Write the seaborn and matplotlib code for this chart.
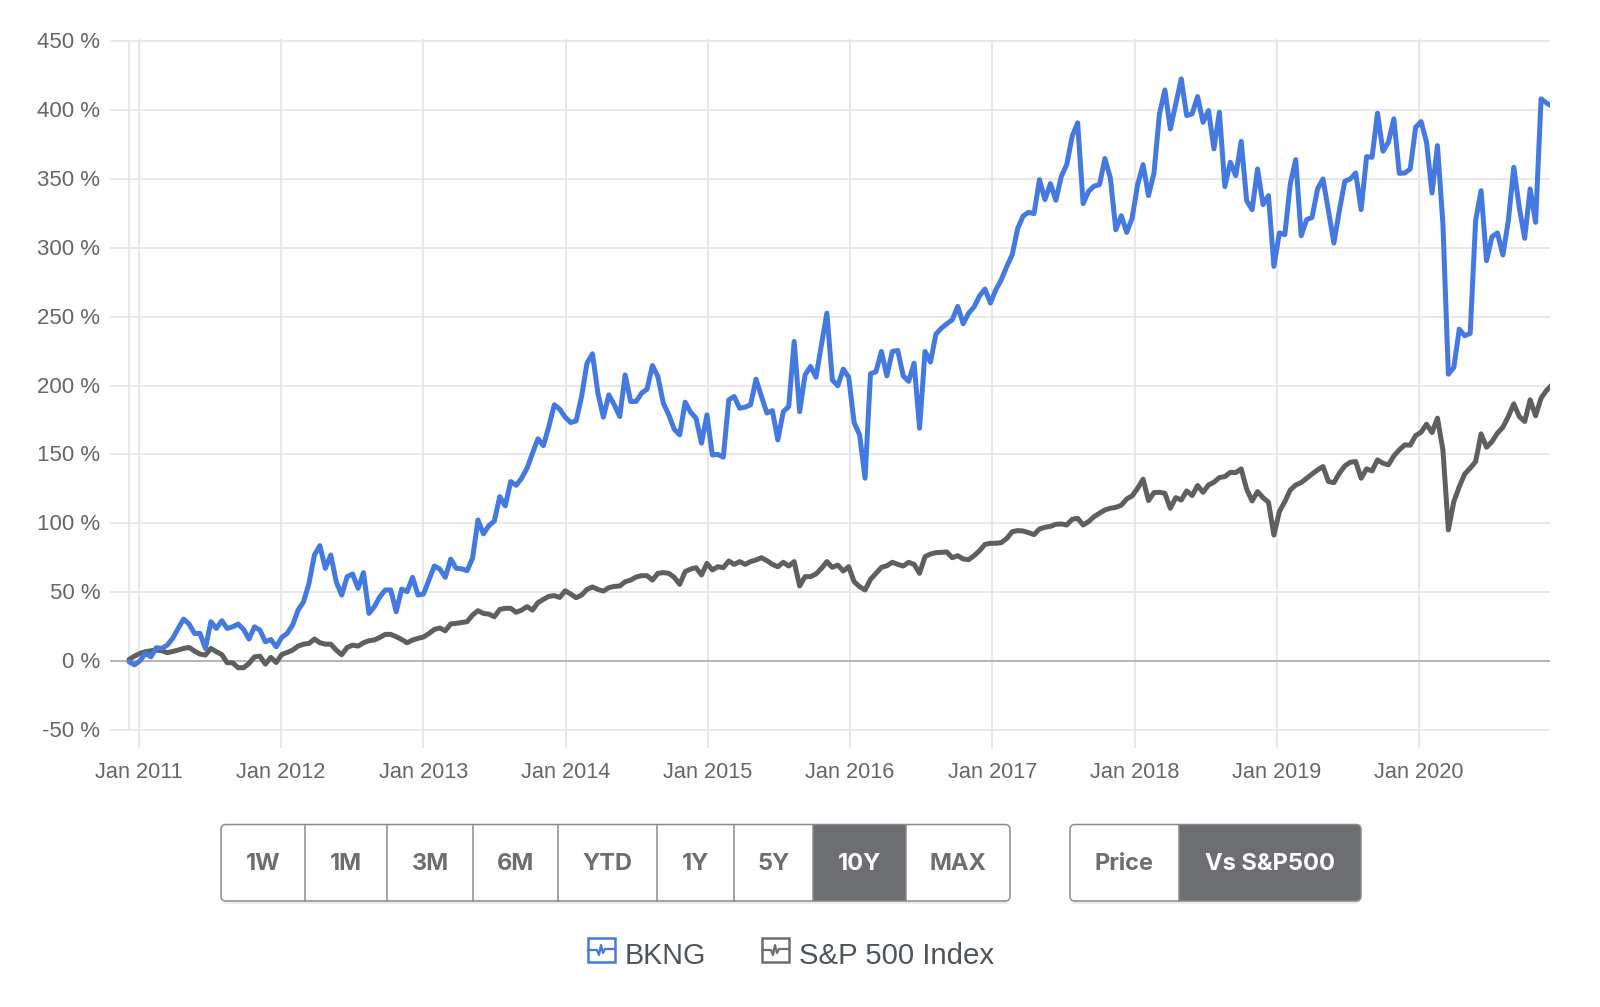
import pandas as pd
import matplotlib.pyplot as plt
import matplotlib.dates as mdates
import matplotlib.transforms as mtrans
import seaborn as sns
from matplotlib.patches import FancyBboxPatch, Rectangle

# valores, um ponto a cada 14 dias
bkng = [-0.5, -2.7, 0.2, 5.6, 3.1, 9.7, 9.2, 11.6, 16.5, 23.7, 30.5, 26.9, 20.1, 20.1, 9.2, 28.6, 23.7, 29.3, 23.7, 24.9,
        26.9, 23, 16, 24.9, 22.5, 14, 15.7, 10.4, 17.2, 20.1, 26.2, 37, 43, 56.4, 77, 83.8, 67.3, 77, 57.6, 47.9,
        61.3, 63.2, 52.8, 64.2, 34.6, 39.5, 46.7, 51.6, 51.6, 35.8, 52.3, 50.4, 60.8, 47.9, 48.7, 58.8, 69, 66.8, 60.8, 74,
        67.3, 67, 65.6, 74.6, 102.4, 92.3, 98.3, 101.7, 119.4, 112.6, 130.3, 127.6, 132.7, 140, 150.8, 161.3, 156.4, 170.2, 186, 182.8,
        177, 173.1, 174.3, 192, 216.2, 223, 194.4, 177, 193.2, 186, 177.5, 207.7, 188.4, 188.4, 194.4, 197.3, 214.5, 206.5, 187.2, 178.7,
        168.3, 164.2, 187.9, 180.6, 176.3, 158.1, 178.7, 149.6, 150, 148, 189.6, 192, 183.5, 184.3, 186, 204.6, 192, 180, 181.8, 160.5,
        181, 184.7, 232, 181, 207.7, 213.8, 206, 229.5, 252.5, 204, 199.8, 211.9, 206, 173, 164.2, 132.7, 208.5, 210, 224.7, 207,
        224.7, 225.4, 207, 203, 216.2, 169, 224.7, 217, 237.3, 241.6, 244.8, 247.7, 257.4, 244.8, 252.5, 257, 265, 270, 259.8, 269.5,
        276.8, 286.4, 295, 314, 323, 325.7, 324.7, 349.4, 334.9, 346.5, 334.4, 351.8, 360.3, 380.9, 390.6, 332, 340.9, 344.6, 345.8, 364.7,
        350.6, 313, 323.2, 311.1, 321.5, 345.8, 360.3, 337.8, 354.2, 397, 414.5, 386.2, 404.4, 422.5, 395.9, 397.1, 409.7, 391, 399.5, 371.7,
        398.3, 344.3, 362, 352.3, 377.2, 334.1, 327.6, 357.1, 331.2, 337.8, 286.4, 310.7, 309.4, 346.2, 363.9, 308.7, 320.3, 322, 342.6, 349.9,
        326.9, 303.4, 326.9, 348.2, 349.9, 354.2, 327.6, 366.1, 365.6, 397.6, 370, 376.5, 393.5, 354, 354.2, 357.1, 387.4, 391.5, 376.5, 339.7,
        374.1, 317.2, 208.2, 213.1, 240.9, 236.1, 237.8, 319.6, 341.4, 290.6, 308, 310.7, 294.7, 319.6, 358.4, 329.3, 306.8, 342.6, 318.4, 408,
        405, 402.7]

sp500 = [1.2, 3.6, 5.6, 6.8, 7.5, 8, 7.5, 6.1, 7, 8, 9.2, 9.9, 7.3, 5.1, 4.4, 9.2, 6.8, 4.8, -1.2, -1.2,
         -4.8, -4.8, -1.7, 3.1, 3.6, -2.2, 2.7, -1, 4.8, 6.3, 8, 10.9, 12.3, 12.8, 16, 13.3, 12.3, 12.3, 8, 4.6,
         9.9, 11.6, 10.9, 13.3, 14.8, 15.3, 17.2, 19.4, 19.4, 17.7, 15.7, 13.3, 15.3, 16.5, 17.5, 20, 23, 24, 22, 27,
         27.4, 28, 28.6, 33.4, 36.6, 34.6, 34.1, 32.2, 37.5, 38.3, 38.3, 35.4, 37, 39.5, 37, 42.4, 44.8, 47, 47.5, 46.2,
         51, 48.7, 46, 47.9, 52, 53.8, 52, 50.8, 53.3, 54.2, 54.5, 57.6, 58.8, 61, 62, 62, 58.8, 63.7, 64.2, 63.7,
         60.8, 55.7, 64.9, 66.8, 67.8, 62.5, 70.9, 66.1, 68.5, 67.8, 72.6, 70.2, 72.2, 70.2, 72.2, 73.4, 75, 72.9, 70.2, 68.5,
         71.7, 69, 72.2, 54.5, 61.3, 61.3, 63.2, 67.3, 72.2, 68, 69.7, 65.4, 68.5, 57.6, 54, 51.6, 59.3, 63.7, 68, 69.2,
         71.7, 70.2, 69, 71.7, 70.2, 63.7, 75.8, 77.7, 78.7, 78.9, 79.2, 75, 76.5, 74.1, 73.6, 76.5, 80.1, 84.7, 85.5, 85.5,
         86, 89, 93.9, 94.7, 94.4, 93.2, 91.8, 95.9, 97.1, 97.8, 99.3, 99.5, 98.8, 102.9, 103.6, 98.8, 101.2, 104.8, 107.3, 109.7,
         110.9, 111.6, 113.1, 117.7, 119.9, 125.4, 132, 116.5, 122.3, 122.5, 121.8, 110.9, 118.6, 116.9, 123.5, 120.1, 127.4, 122.5, 127.8, 129.8,
         133.2, 133.9, 137, 136.8, 139.5, 124.7, 116.2, 123, 118.6, 115.3, 91.5, 108.5, 115.7, 124.2, 127.8, 129.5, 132.7, 135.8, 138.7, 141.2,
         130.3, 129.5, 136.3, 141.6, 144.3, 144.8, 132.7, 139.5, 138, 146, 143.6, 142.4, 148.9, 153.3, 156.9, 156.7, 163.7, 166.1, 171.9, 165.9,
         176.3, 153.3, 95.2, 115.7, 126.6, 135.8, 140, 144.8, 164.9, 155.2, 159.3, 165.4, 169.7, 177.5, 186.7, 177.5, 173.9, 189.6, 178, 190.8,
         196.4, 200.5]

y_ticks = [-50, 0, 50, 100, 150, 200, 250, 300, 350, 400, 450]
botoes_periodo = ['1W', '1M', '3M', '6M', 'YTD', '1Y', '5Y', '10Y', 'MAX']
botoes_modo = ['Price', 'Vs S&P500']

AZUL = '#4479e1'
CINZA = '#5f5f5f'
BOTAO = '#6d6e71'

datas = pd.date_range('2010-12-07', periods=len(bkng), freq='14D')
df = pd.concat([
    pd.DataFrame({'data': datas, 'retorno': sp500, 'serie': 'S&P 500 Index'}),
    pd.DataFrame({'data': datas, 'retorno': bkng, 'serie': 'BKNG'}),
])

sns.set_theme(style='whitegrid')
plt.rcParams['font.family'] = ['Liberation Sans', 'DejaVu Sans']

fig = plt.figure(figsize=(16, 10.07), dpi=100)
ax = fig.add_axes([110 / 1600, (1007 - 748) / 1007, 1440 / 1600, (748 - 39) / 1007])

sns.lineplot(data=df, x='data', y='retorno', hue='serie', hue_order=['S&P 500 Index', 'BKNG'],
             palette=[CINZA, AZUL], estimator=None, sort=False, legend=False, linewidth=3.6, ax=ax,
             solid_joinstyle='round', zorder=3)

ax.set_xlim(pd.Timestamp('2010-10-19'), pd.Timestamp('2020-12-03'))
ax.set_ylim(-63.06, 451.45)
ax.set_xlabel('')
ax.set_ylabel('')
ax.xaxis.set_major_locator(mdates.YearLocator(month=1, day=1))
ax.xaxis.set_major_formatter(mdates.DateFormatter('%b %Y'))
ax.set_yticks(y_ticks)
ax.set_yticklabels([f'{v} %' for v in y_ticks])
ax.grid(True, color='#e8e8e8', linewidth=1.4)
ax.set_axisbelow(True)
ax.tick_params(axis='x', length=0, pad=10, labelsize=15.7, labelcolor='#666666')
ax.tick_params(axis='y', length=0, pad=7, labelsize=16, labelcolor='#666666')
# os rotulos do eixo y ficam 1 px mais acima
sobe = mtrans.ScaledTranslation(0, 1 / 100, fig.dpi_scale_trans)
for lab in ax.get_yticklabels():
    lab.set_transform(lab.get_transform() + sobe)
for s in ax.spines.values():
    s.set_visible(False)
ax.axhline(0, color='#b4b4b4', linewidth=1.4, zorder=2)
ax.vlines(datas[0], -50, 450, color='#e8e8e8', linewidth=1.4, zorder=1)

# camada em pixels para os botoes e a legenda
ui = fig.add_axes([0, 0, 1, 1], facecolor='none')
ui.set_xlim(0, 1600)
ui.set_ylim(1007, 0)
ui.axis('off')
ui.grid(False)


def grupo(labels, bordas, ativo):
    topo, base = 824.5, 901
    caixa = FancyBboxPatch((bordas[0], topo), bordas[-1] - bordas[0], base - topo, boxstyle='round,pad=0,rounding_size=5',
                           facecolor='white', edgecolor='none')
    ui.add_patch(FancyBboxPatch((bordas[0] + 1, topo + 3), bordas[-1] - bordas[0] - 2, base - topo,
                                boxstyle='round,pad=0,rounding_size=5', facecolor='#ececec', edgecolor='none'))
    ui.add_patch(caixa)
    for i, txt in enumerate(labels):
        cor = BOTAO
        if txt == ativo:
            r = Rectangle((bordas[i], topo), bordas[i + 1] - bordas[i], base - topo, facecolor=BOTAO, edgecolor='none')
            ui.add_patch(r)
            r.set_clip_path(caixa)
            cor = 'white'
        ui.text((bordas[i] + bordas[i + 1]) / 2, 863.5, txt, ha='center', va='center', color=cor, fontsize=17,
                fontweight='bold', family=['Inter', 'DejaVu Sans'])
    for b in bordas[1:-1]:
        ui.plot([b, b], [topo, base], color='#8a8b8d', linewidth=1.1)
    ui.add_patch(FancyBboxPatch((bordas[0], topo), bordas[-1] - bordas[0], base - topo, boxstyle='round,pad=0,rounding_size=5',
                                facecolor='none', edgecolor='#8a8b8d', linewidth=1.1))


grupo(botoes_periodo, [221, 305, 387, 473, 558, 657, 734, 813, 906, 1010], '10Y')
grupo(botoes_modo, [1070, 1179, 1361], 'Vs S&P500')


def icone(x, cor):
    ui.add_patch(Rectangle((x, 938), 27, 24, facecolor='white', edgecolor=cor, linewidth=1.8))
    ui.plot([x, x + 9, x + 11, x + 13, x + 15, x + 17, x + 27], [950, 950, 955, 945, 953, 949, 949], color=cor, linewidth=1.6)


icone(588, AZUL)
icone(762, BOTAO)
ui.text(624.5, 956.5, 'BKNG', ha='left', va='center', color='#4f5459', fontsize=20.6)
ui.text(799, 956.5, 'S&P 500 Index', ha='left', va='center', color='#4f5459', fontsize=21.2)

plt.savefig('out.png', dpi=100)
